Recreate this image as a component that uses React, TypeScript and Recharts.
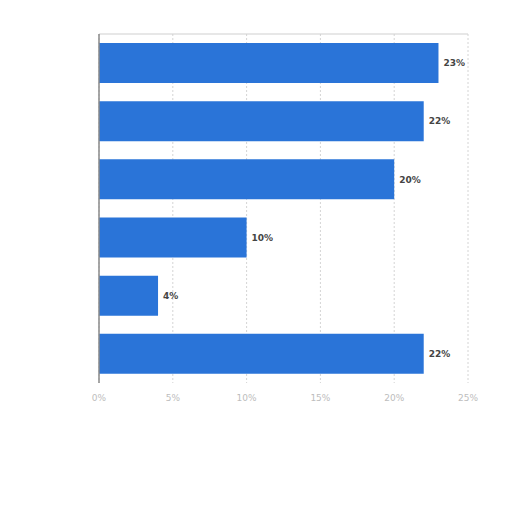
import { Bar, BarChart, CartesianGrid, LabelList, ReferenceLine, XAxis, YAxis } from 'recharts'

const categories = ['Category 1', 'Category 2', 'Category 3', 'Category 4', 'Category 5', 'Category 6']
const shares = [23, 22, 20, 10, 4, 22]
const xTicks = [0, 5, 10, 15, 20, 25]

const data = categories.map((name, i) => ({ name, share: shares[i] }))

export default function App() {
  return (
    <div style={{ position: 'absolute', left: 0, top: 0, width: 512, height: 512, background: '#fff' }}>
      <BarChart
        width={512}
        height={512}
        data={data}
        layout="vertical"
        margin={{ top: 34, right: 44, bottom: 99, left: 99 }}
        barSize={40}
      >
        <CartesianGrid horizontal={false} stroke="#d4d4d4" strokeDasharray="2 2" />
        <XAxis
          type="number"
          domain={[0, 25]}
          ticks={xTicks}
          height={30}
          axisLine={false}
          tickLine={false}
          tickFormatter={(v) => `${v}%`}
          tick={{ fill: '#bdbdbd', fontSize: 9, fontFamily: 'DejaVu Sans' }}
          tickMargin={6}
        />
        <YAxis type="category" dataKey="name" width={0} tick={false} tickLine={false} axisLine={false} />
        <ReferenceLine y={categories[0]} position="start" stroke="#cfcfcf" strokeWidth={1} />
        <Bar dataKey="share" fill="#2a74d8" isAnimationActive={false}>
          <LabelList
            dataKey="share"
            position="right"
            offset={5}
            formatter={(v) => `${v}%`}
            style={{ fill: '#444', fontSize: 9, fontWeight: 'bold', fontFamily: 'DejaVu Sans' }}
          />
        </Bar>
        <ReferenceLine x={0} stroke="#8a8a8a" strokeWidth={1.5} />
      </BarChart>
    </div>
  )
}
